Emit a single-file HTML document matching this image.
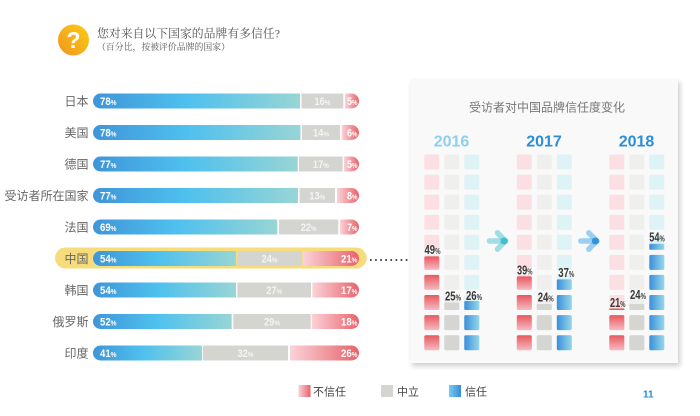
<!DOCTYPE html>
<html><head><meta charset="utf-8"><style>
html,body{margin:0;padding:0;background:#fff;}
body{width:700px;height:416px;overflow:hidden;position:relative;}
#panel{position:absolute;left:410px;top:79px;width:268px;height:284px;background:#f9f9f9;box-shadow:2px 3px 5px rgba(0,0,0,0.2);}
svg{position:absolute;left:0;top:0;}
.cn{font-family:"Liberation Sans","Noto Sans CJK SC",sans-serif;}
.bl{font-family:"Liberation Sans",sans-serif;font-weight:bold;font-size:11px;fill:#fff;}
.gl{font-family:"Liberation Sans",sans-serif;font-weight:bold;font-size:11px;fill:#f4f4f4;}
.pc{font-size:7.5px;}
.cl{font-family:"Liberation Sans",sans-serif;font-weight:bold;font-size:12.5px;fill:#3a3a3a;}
.cp{font-size:8px;}
</style></head><body>
<div id="panel"></div>
<svg width="700" height="416" viewBox="0 0 700 416" xmlns="http://www.w3.org/2000/svg">
<defs>
<linearGradient id="gO" x1="0" y1="1" x2="1" y2="0"><stop offset="0" stop-color="#f0951e"/><stop offset="1" stop-color="#fbcd14"/></linearGradient>
<linearGradient id="gBB" x1="0" y1="0" x2="1" y2="0"><stop offset="0" stop-color="#3f95d8"/><stop offset="0.45" stop-color="#4ec0ee"/><stop offset="1" stop-color="#98d5d5"/></linearGradient>
<linearGradient id="gRB" x1="0" y1="0" x2="1" y2="0"><stop offset="0" stop-color="#fad3d9"/><stop offset="1" stop-color="#e8626a"/></linearGradient>
<linearGradient id="gRC" x1="0" y1="0" x2="0" y2="1"><stop offset="0" stop-color="#e8585e"/><stop offset="1" stop-color="#f6bac2"/></linearGradient>
<linearGradient id="gBC" x1="0" y1="0" x2="1" y2="0"><stop offset="0" stop-color="#3b8fda"/><stop offset="1" stop-color="#95d7ea"/></linearGradient>
<linearGradient id="gLB" x1="0" y1="0" x2="1" y2="0"><stop offset="0" stop-color="#74d0ee"/><stop offset="1" stop-color="#3a88d6"/></linearGradient>
<g id="colP" fill="#fcdfe2">
<rect y="154.5" width="15" height="15" rx="1.5"/><rect y="174.6" width="15" height="15" rx="1.5"/><rect y="194.6" width="15" height="15" rx="1.5"/><rect y="214.7" width="15" height="15" rx="1.5"/><rect y="234.8" width="15" height="15" rx="1.5"/><rect y="254.9" width="15" height="15" rx="1.5"/><rect y="274.9" width="15" height="15" rx="1.5"/><rect y="295" width="15" height="15" rx="1.5"/><rect y="315.1" width="15" height="15" rx="1.5"/><rect y="335.2" width="15" height="15" rx="1.5"/>
</g>
<g id="colG" fill="#eff0ee">
<rect y="154.5" width="15" height="15" rx="1.5"/><rect y="174.6" width="15" height="15" rx="1.5"/><rect y="194.6" width="15" height="15" rx="1.5"/><rect y="214.7" width="15" height="15" rx="1.5"/><rect y="234.8" width="15" height="15" rx="1.5"/><rect y="254.9" width="15" height="15" rx="1.5"/><rect y="274.9" width="15" height="15" rx="1.5"/><rect y="295" width="15" height="15" rx="1.5"/><rect y="315.1" width="15" height="15" rx="1.5"/><rect y="335.2" width="15" height="15" rx="1.5"/>
</g>
<g id="colC" fill="#def3f5">
<rect y="154.5" width="15" height="15" rx="1.5"/><rect y="174.6" width="15" height="15" rx="1.5"/><rect y="194.6" width="15" height="15" rx="1.5"/><rect y="214.7" width="15" height="15" rx="1.5"/><rect y="234.8" width="15" height="15" rx="1.5"/><rect y="254.9" width="15" height="15" rx="1.5"/><rect y="274.9" width="15" height="15" rx="1.5"/><rect y="295" width="15" height="15" rx="1.5"/><rect y="315.1" width="15" height="15" rx="1.5"/><rect y="335.2" width="15" height="15" rx="1.5"/>
</g>
<rect id="fr" width="15" height="15" rx="1.5" fill="url(#gRC)"/>
<rect id="fg" width="15" height="15" rx="1.5" fill="#d5d6d2"/>
<rect id="fb" width="15" height="15" rx="1.5" fill="url(#gBC)"/>
</defs>

<!-- Header -->
<circle cx="73.5" cy="40" r="15.5" fill="url(#gO)"/>
<text x="73.5" y="48" text-anchor="middle" font-family="Liberation Sans, sans-serif" font-weight="bold" font-size="23" fill="#fff">?</text>
<text x="97" y="37.5" font-family="Liberation Serif, Noto Serif CJK SC, serif" font-size="11.8" fill="#555" textLength="183" lengthAdjust="spacingAndGlyphs">您对来自以下国家的品牌有多信任?</text>
<text x="97" y="50" font-family="Liberation Serif, Noto Serif CJK SC, serif" font-size="9" fill="#555" textLength="133" lengthAdjust="spacingAndGlyphs">（百分比，按被评价品牌的国家）</text>

<!-- China highlight -->
<rect x="55" y="247.5" width="311.7" height="21" rx="10.5" fill="#f6dc7b"/>
<line x1="370" y1="260" x2="408" y2="260" stroke="#333" stroke-width="1.7" stroke-dasharray="1.7 3.4"/>

<!-- Country labels -->
<g class="cn" font-size="12" fill="#666" text-anchor="end">
<text x="88.5" y="105.7">日本</text>
<text x="88.5" y="137.2">美国</text>
<text x="88.5" y="168.7">德国</text>
<text x="88.5" y="200.2">受访者所在国家</text>
<text x="88.5" y="231.7">法国</text>
<text x="88.5" y="263.2">中国</text>
<text x="88.5" y="294.7">韩国</text>
<text x="88.5" y="326.2">俄罗斯</text>
<text x="88.5" y="357.7">印度</text>
</g>

<!-- Bars -->
<g>
<path d="M100.5,93.5 H300 V108.5 H100.5 A7.5,7.5 0 0 1 100.5,93.5 Z" fill="url(#gBB)"/>
<rect x="301.5" y="93.5" width="41.8" height="15" fill="#d4d5d1"/>
<path d="M345,93.5 H351.5 A7.5,7.5 0 0 1 351.5,108.5 H345 Z" fill="url(#gRB)"/>

<path d="M100.5,125 H300.5 V140 H100.5 A7.5,7.5 0 0 1 100.5,125 Z" fill="url(#gBB)"/>
<rect x="302" y="125" width="38" height="15" fill="#d4d5d1"/>
<path d="M341.7,125 H351.5 A7.5,7.5 0 0 1 351.5,140 H341.7 Z" fill="url(#gRB)"/>

<path d="M100.5,156.5 H297.7 V171.5 H100.5 A7.5,7.5 0 0 1 100.5,156.5 Z" fill="url(#gBB)"/>
<rect x="299" y="156.5" width="43.7" height="15" fill="#d4d5d1"/>
<path d="M344,156.5 H351.5 A7.5,7.5 0 0 1 351.5,171.5 H344 Z" fill="url(#gRB)"/>

<path d="M100.5,188 H298 V203 H100.5 A7.5,7.5 0 0 1 100.5,188 Z" fill="url(#gBB)"/>
<rect x="299.5" y="188" width="35.5" height="15" fill="#d4d5d1"/>
<path d="M337,188 H351.5 A7.5,7.5 0 0 1 351.5,203 H337 Z" fill="url(#gRB)"/>

<path d="M100.5,219.5 H277.3 V234.5 H100.5 A7.5,7.5 0 0 1 100.5,219.5 Z" fill="url(#gBB)"/>
<rect x="279" y="219.5" width="59.3" height="15" fill="#d4d5d1"/>
<path d="M340,219.5 H351.5 A7.5,7.5 0 0 1 351.5,234.5 H340 Z" fill="url(#gRB)"/>

<path d="M100.5,251 H236 V266 H100.5 A7.5,7.5 0 0 1 100.5,251 Z" fill="url(#gBB)"/>
<rect x="237.3" y="251" width="64.4" height="15" fill="#d4d5d1"/>
<path d="M302.7,251 H351.5 A7.5,7.5 0 0 1 351.5,266 H302.7 Z" fill="url(#gRB)"/>

<path d="M100.5,282.5 H236 V297.5 H100.5 A7.5,7.5 0 0 1 100.5,282.5 Z" fill="url(#gBB)"/>
<rect x="237.3" y="282.5" width="73.7" height="15" fill="#d4d5d1"/>
<path d="M312.3,282.5 H351.5 A7.5,7.5 0 0 1 351.5,297.5 H312.3 Z" fill="url(#gRB)"/>

<path d="M100.5,314 H231.7 V329 H100.5 A7.5,7.5 0 0 1 100.5,314 Z" fill="url(#gBB)"/>
<rect x="233.3" y="314" width="77.4" height="15" fill="#d4d5d1"/>
<path d="M311.7,314 H351.5 A7.5,7.5 0 0 1 351.5,329 H311.7 Z" fill="url(#gRB)"/>

<path d="M100.5,345.5 H202 V360.5 H100.5 A7.5,7.5 0 0 1 100.5,345.5 Z" fill="url(#gBB)"/>
<rect x="203" y="345.5" width="85" height="15" fill="#d4d5d1"/>
<path d="M290,345.5 H351.5 A7.5,7.5 0 0 1 351.5,360.5 H290 Z" fill="url(#gRB)"/>
</g>

<!-- Bar labels -->
<g>
<text class="bl" x="100" y="105" textLength="16.5" lengthAdjust="spacingAndGlyphs">78<tspan class="pc">%</tspan></text>
<text class="gl" x="314.4" y="105" textLength="16" lengthAdjust="spacingAndGlyphs">16<tspan class="pc">%</tspan></text>
<text class="bl" x="347" y="105" textLength="10.5" lengthAdjust="spacingAndGlyphs">5<tspan class="pc">%</tspan></text>

<text class="bl" x="100" y="136.5" textLength="16.5" lengthAdjust="spacingAndGlyphs">78<tspan class="pc">%</tspan></text>
<text class="gl" x="313" y="136.5" textLength="16" lengthAdjust="spacingAndGlyphs">14<tspan class="pc">%</tspan></text>
<text class="bl" x="347" y="136.5" textLength="10.5" lengthAdjust="spacingAndGlyphs">6<tspan class="pc">%</tspan></text>

<text class="bl" x="100" y="168" textLength="16.5" lengthAdjust="spacingAndGlyphs">77<tspan class="pc">%</tspan></text>
<text class="gl" x="312.9" y="168" textLength="16" lengthAdjust="spacingAndGlyphs">17<tspan class="pc">%</tspan></text>
<text class="bl" x="347" y="168" textLength="10.5" lengthAdjust="spacingAndGlyphs">5<tspan class="pc">%</tspan></text>

<text class="bl" x="100" y="199.5" textLength="16.5" lengthAdjust="spacingAndGlyphs">77<tspan class="pc">%</tspan></text>
<text class="gl" x="309.3" y="199.5" textLength="16" lengthAdjust="spacingAndGlyphs">13<tspan class="pc">%</tspan></text>
<text class="bl" x="347" y="199.5" textLength="10.5" lengthAdjust="spacingAndGlyphs">8<tspan class="pc">%</tspan></text>

<text class="bl" x="100" y="231" textLength="16.5" lengthAdjust="spacingAndGlyphs">69<tspan class="pc">%</tspan></text>
<text class="gl" x="300.7" y="231" textLength="16" lengthAdjust="spacingAndGlyphs">22<tspan class="pc">%</tspan></text>
<text class="bl" x="347" y="231" textLength="10.5" lengthAdjust="spacingAndGlyphs">7<tspan class="pc">%</tspan></text>

<text class="bl" x="100" y="262.5" textLength="16.5" lengthAdjust="spacingAndGlyphs">54<tspan class="pc">%</tspan></text>
<text class="gl" x="261.5" y="262.5" textLength="16" lengthAdjust="spacingAndGlyphs">24<tspan class="pc">%</tspan></text>
<text class="bl" x="341" y="262.5" textLength="16.5" lengthAdjust="spacingAndGlyphs">21<tspan class="pc">%</tspan></text>

<text class="bl" x="100" y="294" textLength="16.5" lengthAdjust="spacingAndGlyphs">54<tspan class="pc">%</tspan></text>
<text class="gl" x="266.2" y="294" textLength="16" lengthAdjust="spacingAndGlyphs">27<tspan class="pc">%</tspan></text>
<text class="bl" x="341" y="294" textLength="16.5" lengthAdjust="spacingAndGlyphs">17<tspan class="pc">%</tspan></text>

<text class="bl" x="100" y="325.5" textLength="16.5" lengthAdjust="spacingAndGlyphs">52<tspan class="pc">%</tspan></text>
<text class="gl" x="264" y="325.5" textLength="16" lengthAdjust="spacingAndGlyphs">29<tspan class="pc">%</tspan></text>
<text class="bl" x="341" y="325.5" textLength="16.5" lengthAdjust="spacingAndGlyphs">18<tspan class="pc">%</tspan></text>

<text class="bl" x="100" y="357" textLength="16.5" lengthAdjust="spacingAndGlyphs">41<tspan class="pc">%</tspan></text>
<text class="gl" x="237.5" y="357" textLength="16" lengthAdjust="spacingAndGlyphs">32<tspan class="pc">%</tspan></text>
<text class="bl" x="341" y="357" textLength="16.5" lengthAdjust="spacingAndGlyphs">26<tspan class="pc">%</tspan></text>
</g>

<!-- Panel content -->
<text class="cn" x="547" y="111.5" text-anchor="middle" font-size="12" fill="#777">受访者对中国品牌信任度变化</text>
<g font-family="Liberation Sans, sans-serif" font-weight="bold" font-size="16" text-anchor="middle">
<text x="451.5" y="146.5" fill="#8dd0ee">2016</text>
<text x="544" y="146.5" fill="#2b8ed6">2017</text>
<text x="636.5" y="146.5" fill="#2b8ed6">2018</text>
</g>

<!-- light columns -->
<use href="#colP" x="424.3"/><use href="#colG" x="444.3"/><use href="#colC" x="464.3"/>
<use href="#colP" x="516.8"/><use href="#colG" x="536.8"/><use href="#colC" x="556.8"/>
<use href="#colP" x="609.3"/><use href="#colG" x="629.3"/><use href="#colC" x="649.3"/>

<!-- 2016 fills -->
<rect x="424.3" y="256.4" width="15" height="13.5" rx="1.5" fill="url(#gRC)"/>
<use href="#fr" x="424.3" y="274.9"/><use href="#fr" x="424.3" y="295"/><use href="#fr" x="424.3" y="315.1"/><use href="#fr" x="424.3" y="335.2"/>
<rect x="444.3" y="302.5" width="15" height="7.5" rx="1" fill="#d5d6d2"/>
<use href="#fg" x="444.3" y="315.1"/><use href="#fg" x="444.3" y="335.2"/>
<rect x="464.3" y="301" width="15" height="9" rx="1" fill="url(#gBC)"/>
<use href="#fb" x="464.3" y="315.1"/><use href="#fb" x="464.3" y="335.2"/>

<!-- 2017 fills -->
<rect x="516.8" y="276.4" width="15" height="13.5" rx="1.5" fill="url(#gRC)"/>
<use href="#fr" x="516.8" y="295"/><use href="#fr" x="516.8" y="315.1"/><use href="#fr" x="516.8" y="335.2"/>
<rect x="536.8" y="304" width="15" height="6" rx="1" fill="#d5d6d2"/>
<use href="#fg" x="536.8" y="315.1"/><use href="#fg" x="536.8" y="335.2"/>
<rect x="556.8" y="279.4" width="15" height="10.5" rx="1" fill="url(#gBC)"/>
<use href="#fb" x="556.8" y="295"/><use href="#fb" x="556.8" y="315.1"/><use href="#fb" x="556.8" y="335.2"/>

<!-- 2018 fills -->
<rect x="609.3" y="308.5" width="15" height="1.5" fill="#e8585e"/>
<use href="#fr" x="609.3" y="315.1"/><use href="#fr" x="609.3" y="335.2"/>
<rect x="629.3" y="304" width="15" height="6" rx="1" fill="#d5d6d2"/>
<use href="#fg" x="629.3" y="315.1"/><use href="#fg" x="629.3" y="335.2"/>
<rect x="649.3" y="243.8" width="15" height="6" rx="1" fill="url(#gBC)"/>
<use href="#fb" x="649.3" y="254.9"/><use href="#fb" x="649.3" y="274.9"/><use href="#fb" x="649.3" y="295"/><use href="#fb" x="649.3" y="315.1"/><use href="#fb" x="649.3" y="335.2"/>

<!-- grid labels -->
<g>
<text class="cl" x="424.5" y="254" textLength="16" lengthAdjust="spacingAndGlyphs">49<tspan class="cp">%</tspan></text>
<text class="cl" x="445" y="300.5" textLength="16" lengthAdjust="spacingAndGlyphs">25<tspan class="cp">%</tspan></text>
<text class="cl" x="466" y="300" textLength="16" lengthAdjust="spacingAndGlyphs">26<tspan class="cp">%</tspan></text>
<text class="cl" x="517" y="274.5" textLength="15.5" lengthAdjust="spacingAndGlyphs">39<tspan class="cp">%</tspan></text>
<text class="cl" x="537.7" y="301.5" textLength="16" lengthAdjust="spacingAndGlyphs">24<tspan class="cp">%</tspan></text>
<text class="cl" x="558.3" y="277" textLength="16" lengthAdjust="spacingAndGlyphs">37<tspan class="cp">%</tspan></text>
<text class="cl" x="610" y="306.8" textLength="15.5" lengthAdjust="spacingAndGlyphs">21<tspan class="cp">%</tspan></text>
<text class="cl" x="630" y="299.2" textLength="16" lengthAdjust="spacingAndGlyphs">24<tspan class="cp">%</tspan></text>
<text class="cl" x="649.3" y="241.7" textLength="15.5" lengthAdjust="spacingAndGlyphs">54<tspan class="cp">%</tspan></text>
</g>

<!-- arrows -->
<g stroke-linecap="round" stroke-width="5.5" fill="none">
<line x1="489.5" y1="241" x2="505.5" y2="241" stroke="#63ccd6" stroke-opacity="0.6"/>
<line x1="497.5" y1="232.8" x2="505.5" y2="241" stroke="#63ccd6" stroke-opacity="0.6"/>
<line x1="497.5" y1="249.2" x2="505.5" y2="241" stroke="#63ccd6" stroke-opacity="0.6"/>
<line x1="580.8" y1="241" x2="596.8" y2="241" stroke="#5bb4ec" stroke-opacity="0.6"/>
<line x1="588.8" y1="232.8" x2="596.8" y2="241" stroke="#5bb4ec" stroke-opacity="0.6"/>
<line x1="588.8" y1="249.2" x2="596.8" y2="241" stroke="#5bb4ec" stroke-opacity="0.6"/>
</g>
<circle cx="504" cy="241" r="3.5" fill="#3cb8c5" fill-opacity="0.8"/>
<circle cx="595.3" cy="241" r="3.5" fill="#2a86d2" fill-opacity="0.8"/>

<!-- legend -->
<rect x="298.5" y="385" width="12" height="12" fill="url(#gRB)"/>
<text class="cn" x="313" y="395.7" font-size="11" fill="#444">不信任</text>
<rect x="381" y="385" width="12" height="12" fill="#d4d5d1"/>
<text class="cn" x="397" y="395.7" font-size="11" fill="#444">中立</text>
<rect x="449" y="385" width="12" height="12" fill="url(#gLB)"/>
<text class="cn" x="465" y="395.7" font-size="11" fill="#444">信任</text>

<text x="643" y="397.5" font-family="Liberation Sans, sans-serif" font-weight="bold" font-size="10" fill="#2a8bd4">11</text>
</svg>
</body></html>
